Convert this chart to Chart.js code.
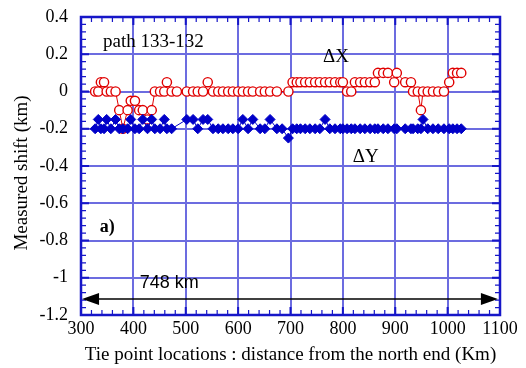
<!DOCTYPE html>
<html>
<head>
<meta charset="utf-8">
<script src="https://cdn.jsdelivr.net/npm/chart.js@4.4.1/dist/chart.umd.min.js"></script>
<style>
  html, body { margin: 0; padding: 0; background: #fff; }
  #wrap { width: 526px; height: 368px; }
</style>
</head>
<body>
<div id="wrap"><canvas id="shiftChart" width="526" height="368"></canvas></div>
<script>
// Tie point locations (km from the north end)
const tiePoints = [
  327, 333, 338, 344, 349, 357, 366, 373, 380, 389, 395, 403, 411, 418, 427, 435, 441, 451, 459, 464, 473, 483,
  502, 514, 523, 533, 542, 552, 562, 571, 581, 590, 600, 609, 619, 628, 642, 651, 661, 674, 684, 696,
  704, 712, 719, 728, 737, 747, 756, 766, 775, 785, 795, 800, 808, 816, 823, 833, 842, 852, 861, 867, 877, 886,
  898, 903, 919, 930, 934, 943, 949, 953, 962, 972, 982, 993, 1003, 1010, 1018, 1026
];

// Measured shift along X (km), null where no point was plotted
const deltaX = [
  0, 0, 0.05, 0.05, 0, 0, 0, -0.1, -0.2, -0.1, -0.05, -0.05, -0.1, -0.1, -0.15, -0.1, 0, 0, 0, 0.05, 0, 0,
  0, 0, 0, 0, 0.05, 0, 0, 0, 0, 0, 0, 0, 0, 0, 0, 0, 0, 0, null, 0,
  0.05, 0.05, 0.05, 0.05, 0.05, 0.05, 0.05, 0.05, 0.05, 0.05, 0.05, 0.05, 0, 0, 0.05, 0.05, 0.05, 0.05, 0.05, 0.1, 0.1, 0.1,
  0.05, 0.1, 0.05, 0.05, 0, 0, -0.1, 0, 0, 0, 0, 0, 0.05, 0.1, 0.1, 0.1
];

// Measured shift along Y (km)
const deltaY = [
  -0.2, -0.15, -0.2, -0.2, -0.15, -0.2, -0.15, -0.2, -0.2, -0.2, -0.15, -0.2, -0.2, -0.15, -0.2, -0.15, -0.2, -0.2, -0.15, -0.2, -0.2, null,
  -0.15, -0.15, -0.2, -0.15, -0.15, -0.2, -0.2, -0.2, -0.2, -0.2, -0.2, -0.15, -0.2, -0.15, -0.2, -0.2, -0.15, -0.2, -0.2, -0.25,
  -0.2, -0.2, -0.2, -0.2, -0.2, -0.2, -0.2, -0.15, -0.2, -0.2, -0.2, -0.2, -0.2, -0.2, -0.2, -0.2, -0.2, -0.2, -0.2, -0.2, -0.2, -0.2,
  -0.2, -0.2, -0.2, -0.2, -0.2, -0.2, -0.2, -0.15, -0.2, -0.2, -0.2, -0.2, -0.2, -0.2, -0.2, -0.2
];

const xTickValues = [300, 400, 500, 600, 700, 800, 900, 1000, 1100];
const xTickLabels = ['300', '400', '500', '600', '700', '800', '900', '1000', '1100'];
const yTickValues = [0.4, 0.2, 0, -0.2, -0.4, -0.6, -0.8, -1, -1.2];
const yTickLabels = ['0.4', '0.2', '0', '-0.2', '-0.4', '-0.6', '-0.8', '-1', '-1.2'];

// Text notes and the 748 km arrow, in data units
const notes = [
  { text: 'path 133-132', x: 342, y: 0.266, bold: false, sans: false, size: 19 },
  { text: '\u0394X', x: 762, y: 0.185, bold: false, sans: false, size: 19 },
  { text: '\u0394Y', x: 819, y: -0.352, bold: false, sans: false, size: 19 },
  { text: 'a)', x: 336, y: -0.727, bold: true, sans: false, size: 18 },
  { text: '748 km', x: 412, y: -1.028, bold: false, sans: true, size: 18 }
];
const arrowFrom = 302;
const arrowTo = 1096;
const arrowLevel = -1.114;

const serif = '"Liberation Serif", "Times New Roman", serif';
const sans = '"Liberation Sans", Arial, sans-serif';
const gridBlue = '#6c6ce0';
const frameBlue = '#1616c8';

Chart.defaults.color = '#000';

function toPoints(values) {
  return tiePoints.map((x, i) => ({ x, y: values[i] }));
}

function labelFor(values, labels) {
  return v => {
    const i = values.findIndex(t => Math.abs(t - v) < 1e-6);
    return i >= 0 ? labels[i] : '';
  };
}

// no extra room for tick labels: layout padding sets the plot box
function fixBox(size, key) {
  return s => {
    s[key] = size;
    s.paddingTop = 0; s.paddingBottom = 0;
    s.paddingLeft = 0; s.paddingRight = 0;
  };
}

// frame, inward tick marks, notes and arrow
const decorPlugin = {
  id: 'decor',
  afterDatasetsDraw(chart) {
    const { ctx, chartArea: a, scales: { x, y } } = chart;
    ctx.save();

    ctx.strokeStyle = frameBlue;
    for (let v = 300; v <= 1100; v += 20) {
      const major = v % 100 === 0;
      const px = x.getPixelForValue(v);
      const len = major ? 8 : 5;
      ctx.lineWidth = major ? 2 : 1.2;
      ctx.beginPath();
      ctx.moveTo(px, a.bottom); ctx.lineTo(px, a.bottom - len);
      ctx.moveTo(px, a.top); ctx.lineTo(px, a.top + len);
      ctx.stroke();
    }
    for (let i = 0; i <= 40; i++) {
      const major = i % 5 === 0;
      const py = y.getPixelForValue(-1.2 + i * 0.04);
      const len = major ? 8 : 5;
      ctx.lineWidth = major ? 2 : 1.2;
      ctx.beginPath();
      ctx.moveTo(a.left, py); ctx.lineTo(a.left + len, py);
      ctx.moveTo(a.right, py); ctx.lineTo(a.right - len, py);
      ctx.stroke();
    }
    ctx.lineWidth = 2.5;
    ctx.strokeRect(a.left, a.top, a.width, a.height);

    // 748 km double arrow
    const ay = y.getPixelForValue(arrowLevel);
    const x0 = x.getPixelForValue(arrowFrom);
    const x1 = x.getPixelForValue(arrowTo);
    ctx.strokeStyle = '#000';
    ctx.fillStyle = '#000';
    ctx.lineWidth = 1.5;
    ctx.beginPath();
    ctx.moveTo(x0 + 10, ay); ctx.lineTo(x1 - 10, ay);
    ctx.stroke();
    ctx.beginPath();
    ctx.moveTo(x0, ay); ctx.lineTo(x0 + 17, ay - 6); ctx.lineTo(x0 + 17, ay + 6); ctx.closePath();
    ctx.moveTo(x1, ay); ctx.lineTo(x1 - 17, ay - 6); ctx.lineTo(x1 - 17, ay + 6); ctx.closePath();
    ctx.fill();

    ctx.textBaseline = 'middle';
    ctx.textAlign = 'left';
    notes.forEach(n => {
      ctx.font = (n.bold ? 'bold ' : '') + n.size + 'px ' + (n.sans ? sans : serif);
      ctx.fillText(n.text, x.getPixelForValue(n.x), y.getPixelForValue(n.y));
    });

    // y axis title
    ctx.font = '19px ' + serif;
    ctx.textAlign = 'center';
    ctx.translate(22, 173);
    ctx.rotate(-Math.PI / 2);
    ctx.fillText('Measured shift (km)', 0, 0);
    ctx.restore();
  }
};

const ctx = document.getElementById('shiftChart').getContext('2d');
const shiftChart = new Chart(ctx, {
  type: 'scatter',
  data: {
    datasets: [
      {
        label: '\u0394Y',
        data: toPoints(deltaY),
        showLine: true,
        spanGaps: true,
        order: 0,
        borderColor: '#0000c8',
        backgroundColor: '#0000c8',
        borderWidth: 1,
        pointStyle: 'rectRot',
        pointRadius: 5,
        pointBorderWidth: 1
      },
      {
        label: '\u0394X',
        data: toPoints(deltaX),
        showLine: true,
        spanGaps: true,
        order: 1,
        borderColor: '#e00000',
        backgroundColor: '#fff',
        borderWidth: 1,
        pointStyle: 'circle',
        pointRadius: 4.6,
        pointBorderWidth: 1.4
      }
    ]
  },
  options: {
    responsive: false,
    animation: false,
    layout: { padding: { top: 17, right: 26, left: 0, bottom: 0 } },
    plugins: {
      legend: { display: false },
      tooltip: { enabled: false }
    },
    scales: {
      x: {
        type: 'linear',
        min: 300,
        max: 1100,
        afterFit: fixBox(53, 'height'),
        afterBuildTicks: s => { s.ticks = xTickValues.map(v => ({ value: v })); },
        ticks: {
          font: { family: serif, size: 18 },
          padding: 3,
          maxRotation: 0,
          autoSkip: false,
          callback: labelFor(xTickValues, xTickLabels)
        },
        grid: { color: gridBlue, lineWidth: 2, drawTicks: false },
        border: { display: false },
        title: {
          display: true,
          text: 'Tie point locations : distance from the north end (Km)',
          font: { family: serif, size: 19 },
          padding: { top: 0, bottom: 2 }
        }
      },
      y: {
        type: 'linear',
        min: -1.2,
        max: 0.4,
        afterFit: fixBox(81, 'width'),
        afterBuildTicks: s => { s.ticks = yTickValues.map(v => ({ value: v })); },
        ticks: {
          font: { family: serif, size: 18 },
          padding: 13,
          callback: labelFor(yTickValues, yTickLabels)
        },
        grid: { color: gridBlue, lineWidth: 2, drawTicks: false },
        border: { display: false }
      }
    }
  },
  plugins: [decorPlugin]
});
</script>
</body>
</html>
